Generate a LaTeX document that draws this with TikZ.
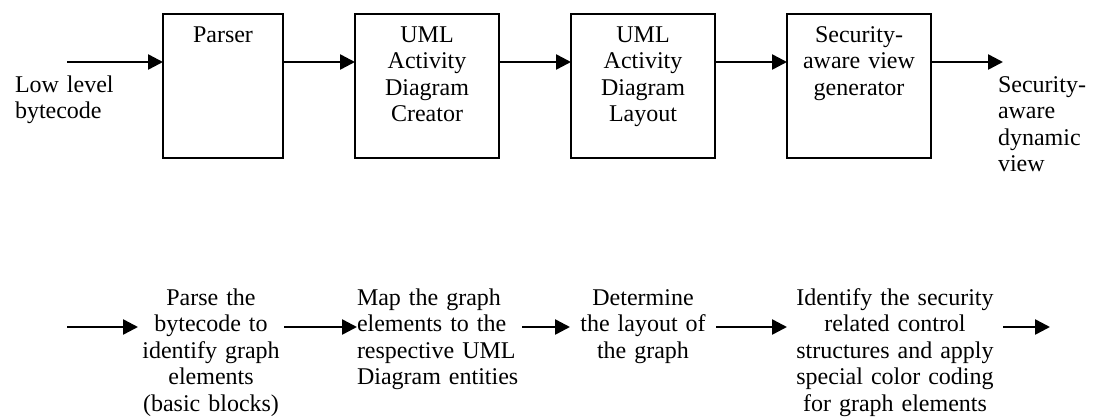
\documentclass[tikz,border=0pt]{standalone}
\usepackage{fontspec}
\setmainfont{Liberation Serif}
\usetikzlibrary{positioning, arrows.meta}

\begin{document}
\begin{tikzpicture}[
  x=0.5pt, y=-0.5pt,
  stage/.style={rectangle, draw, line width=1pt, inner sep=0pt, outer sep=0pt,
                text width=72pt, align=center, text height=14pt, text depth=58pt,
                font=\fontsize{12}{13.25}\selectfont},
  note/.style={inner sep=0pt, outer sep=0pt, align=center,
               font=\fontsize{12}{13.25}\selectfont},
  arr/.style={-{Triangle[length=7.5pt, width=7.5pt]}, line width=1.25pt},
  node distance=36pt
]
  \useasboundingbox (0,0) rectangle (1097,418);

  % tool chain
  \node[stage, text width=60pt, anchor=north west] (parser) at (163,14) {Parser};
  \node[stage, right=of parser]  (creator) {UML\\Activity\\Diagram\\Creator};
  \node[stage, right=of creator] (layout)  {UML\\Activity\\Diagram\\Layout};
  \node[stage, right=of layout]  (viewgen) {Security-\\aware view\\generator};

  \node[note, text width=50pt, align=left, anchor=base west] (bytecode) at (15,92) {Low level\\bytecode};
  \node[note, text width=47.5pt, align=left, anchor=base west] (dynview) at (998,92) {Security-\\aware\\dynamic\\view};

  \coordinate (in)  at (67,62);
  \coordinate (out) at (1003,62);
  \draw[arr] (in) -- (in -| parser.west);
  \draw[arr] (in -| parser.east)  -- (in -| creator.west);
  \draw[arr] (in -| creator.east) -- (in -| layout.west);
  \draw[arr] (in -| layout.east)  -- (in -| viewgen.west);
  \draw[arr] (in -| viewgen.east) -- (out);

  % what each stage does
  \node[note, text width=73pt, anchor=base] (parse) at (211,305)
    {Parse the\\bytecode to\\identify graph\\elements\\(basic blocks)};
  \node[note, text width=82.5pt, align=left, anchor=base west] (map) at (357,305)
    {Map the graph\\elements to the\\respective UML\\Diagram entities};
  \node[note, text width=73pt, anchor=base] (determine) at (643,305)
    {Determine\\the layout of\\the graph};
  \node[note, text width=108pt, anchor=base] (identify) at (895,305)
    {Identify the security\\related control\\structures and apply\\special color coding\\for graph elements};

  \coordinate (start) at (67,327);
  \coordinate (stop)  at (1050,327);
  \draw[arr] (start) -- (start -| parse.west);
  \draw[arr] (start -| parse.east)     -- (start -| map.west);
  \draw[arr] (start -| map.east)       -- (start -| determine.west);
  \draw[arr] (start -| determine.east) -- (start -| identify.west);
  \draw[arr] (start -| identify.east)  -- (stop);
\end{tikzpicture}
\end{document}
